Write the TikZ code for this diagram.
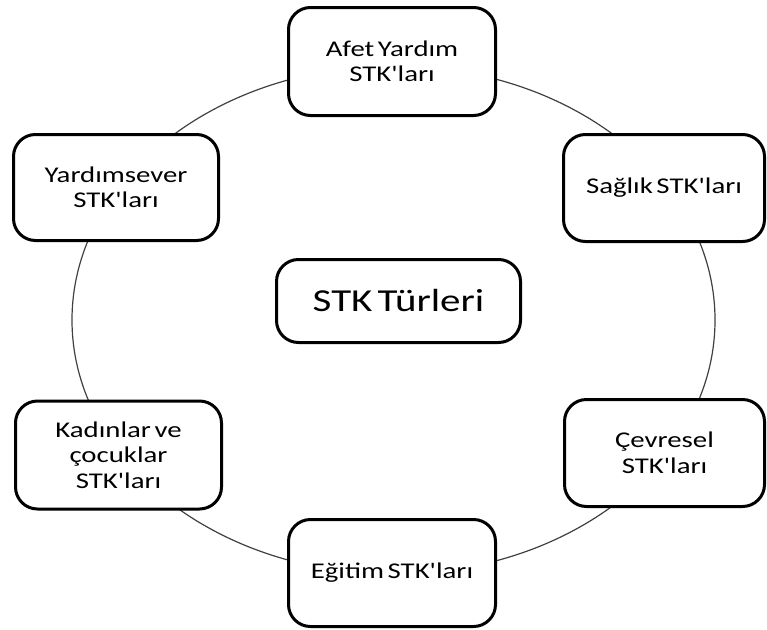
\documentclass[tikz,border=0pt]{standalone}
\usepackage{fontspec}
\setmainfont{Carlito}[Ligatures=TeXOff, FakeStretch=1.28, WordSpace=0.55]
\begin{document}
\begin{tikzpicture}[x=1pt,y=-1pt,
  box/.style={draw=black, line width=3pt, rounded corners=22pt, fill=white,
    align=center, font=\fontsize{22.5}{25.5}\selectfont, inner sep=0pt, text=black},
  ring/.style={draw=black!75, line width=1.2pt}]
\useasboundingbox (0,0) rectangle (767,629);
\draw[ring] (393.5,320) ellipse [x radius=321.5pt, y radius=254pt];
\node[box, minimum width=207pt, minimum height=108pt] (afet) at (392,61.5) {Afet Yardım\\STK'ları};
\node[box, minimum width=205pt, minimum height=106pt] (yardim) at (116,187.5) {Yardımsever\\STK'ları};
\node[box, minimum width=201pt, minimum height=107pt] (saglik) at (664,188) {Sağlık STK'ları};
\node[box, minimum width=244pt, minimum height=83pt, font=\fontsize{32}{38}\selectfont] (turler) at (398.5,301) {STK Türleri};
\node[box, minimum width=206pt, minimum height=108pt] (kadin) at (118.5,455) {Kadınlar ve\\çocuklar\\STK'ları};
\node[box, minimum width=200pt, minimum height=107pt] (cevre) at (664.5,453) {Çevresel\\STK'ları};
\node[box, minimum width=207pt, minimum height=107pt] (egitim) at (392,573) {Eğitim STK'ları};
\end{tikzpicture}
\end{document}
